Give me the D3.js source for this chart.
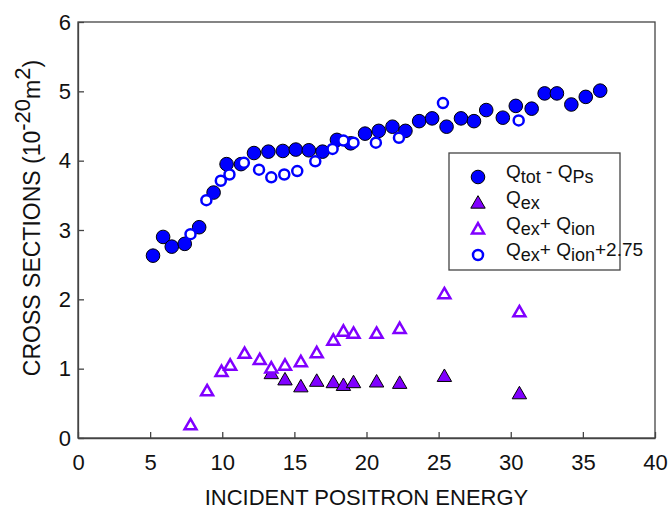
<!DOCTYPE html>
<html>
<head>
  <meta charset="utf-8">
  <script src="https://d3js.org/d3.v7.min.js"></script>
  <style>
    body { margin: 0; background: #fff; }
    text { font-family: "Liberation Sans", Arial, sans-serif; }
  </style>
</head>
<body>
<div id="chart"></div>
<script>
    var width = 669;
    var height = 512;

    // values
    var totX = [5.2, 5.9, 6.5, 7.4, 8.4, 9.4, 10.3, 11.3, 12.2, 13.2, 14.2, 15.1, 16.0, 16.95, 17.95, 18.9,
                19.9, 20.85, 21.8, 22.7, 23.65, 24.55, 25.55, 26.55, 27.45, 28.3, 29.45, 30.35, 31.45, 32.35,
                33.2, 34.2, 35.2, 36.2];
    var totY = [2.63, 2.90, 2.76, 2.80, 3.04, 3.54, 3.95, 3.95, 4.11, 4.13, 4.14, 4.16, 4.15, 4.13, 4.30, 4.25,
                4.39, 4.43, 4.49, 4.43, 4.57, 4.61, 4.49, 4.61, 4.57, 4.73, 4.62, 4.79, 4.75, 4.97,
                4.97, 4.81, 4.92, 5.01];

    var exX = [13.4, 14.35, 15.45, 16.55, 17.7, 18.4, 19.1, 20.7, 22.3, 25.4, 30.6];
    var exY = [0.93, 0.84, 0.74, 0.82, 0.80, 0.76, 0.80, 0.81, 0.79, 0.89, 0.64];

    var ionX = [7.8, 8.95, 9.95, 10.55, 11.55, 12.6, 13.4, 14.35, 15.45, 16.55, 17.7, 18.4, 19.1, 20.7, 22.3, 25.4, 30.6];
    var ionY = [0.19, 0.68, 0.96, 1.05, 1.22, 1.13, 1.01, 1.05, 1.10, 1.23, 1.41, 1.54, 1.51, 1.51, 1.58, 2.08, 1.82];

    var shiftX = [7.8, 8.9, 9.9, 10.5, 11.5, 12.55, 13.4, 14.3, 15.2, 16.45, 17.65, 18.4, 19.1, 20.65, 22.25, 25.3, 30.55];
    var shiftY = [2.94, 3.43, 3.71, 3.80, 3.97, 3.87, 3.76, 3.80, 3.85, 3.99, 4.17, 4.29, 4.26, 4.26, 4.33, 4.83, 4.58];

    var xTicks = [0, 5, 10, 15, 20, 25, 30, 35, 40];
    var yTicks = [0, 1, 2, 3, 4, 5, 6];

    var blue = "#0000ff";
    var purple = "#8000ff";
    var axisColor = "#444";

    var x = d3.scaleLinear().domain([0, 40]).range([78, 655]);
    var y = d3.scaleLinear().domain([0, 6]).range([438, 22]);

    var svg = d3.select("#chart")
                .append("svg")
                .attr("width", width)
                .attr("height", height);

    // frame
    svg.append("rect")
       .attr("x", x(0)).attr("y", y(6))
       .attr("width", x(40) - x(0)).attr("height", y(0) - y(6))
       .attr("fill", "none").attr("stroke", axisColor).attr("stroke-width", 1.3);

    var xAxis = svg.append("g")
       .attr("transform", "translate(0," + y(0) + ")")
       .call(d3.axisBottom(x).tickValues(xTicks).tickFormat(d3.format("d"))
             .tickSizeInner(-6).tickSizeOuter(0).tickPadding(16));
    var yAxis = svg.append("g")
       .attr("transform", "translate(" + x(0) + ",0)")
       .call(d3.axisLeft(y).tickValues(yTicks).tickFormat(d3.format("d"))
             .tickSizeInner(-6).tickSizeOuter(0).tickPadding(7));

    [xAxis, yAxis].forEach(function(g) {
      g.attr("font-size", 22).attr("font-family", "Liberation Sans, Arial, sans-serif");
      g.select(".domain").attr("stroke", axisColor).attr("stroke-width", 1.3);
      g.selectAll(".tick line").attr("stroke", axisColor).attr("stroke-width", 1.3);
      g.selectAll(".tick text").attr("fill", "#111");
    });

    // axis titles
    svg.append("text")
       .attr("x", (x(0) + x(40)) / 2).attr("y", 505)
       .attr("text-anchor", "middle").attr("font-size", 22).attr("fill", "#111")
       .text("INCIDENT POSITRON ENERGY");

    var yt = svg.append("text")
       .attr("transform", "translate(40,218) rotate(-90)")
       .attr("text-anchor", "middle").attr("font-size", 23).attr("fill", "#111");
    yt.append("tspan").text("CROSS SECTIONS (10");
    yt.append("tspan").attr("dy", -10).attr("font-size", 22).text("-20");
    yt.append("tspan").attr("dy", 10).text("m");
    yt.append("tspan").attr("dy", -10).attr("font-size", 22).text("2");
    yt.append("tspan").attr("dy", 10).text(")");

    var tri = d3.symbol().type(d3.symbolTriangle);

    var pts = function(xs, ys) { return xs.map(function(v, i) { return [v, ys[i]]; }); };

    // Q_tot - Q_Ps
    svg.append("g").selectAll("circle").data(pts(totX, totY)).join("circle")
       .attr("cx", function(d) { return x(d[0]); })
       .attr("cy", function(d) { return y(d[1]); })
       .attr("r", 6.8).attr("fill", blue).attr("stroke", "#000").attr("stroke-width", 1);

    // Q_ex
    svg.append("g").selectAll("path").data(pts(exX, exY)).join("path")
       .attr("d", tri.size(90))
       .attr("transform", function(d) { return "translate(" + x(d[0]) + "," + (y(d[1]) + 1) + ")"; })
       .attr("fill", purple).attr("stroke", "#000").attr("stroke-width", 1);

    // Q_ex + Q_ion
    svg.append("g").selectAll("path").data(pts(ionX, ionY)).join("path")
       .attr("d", tri.size(62))
       .attr("transform", function(d) { return "translate(" + x(d[0]) + "," + (y(d[1]) + 1) + ")"; })
       .attr("fill", "#fff").attr("stroke", purple).attr("stroke-width", 2.5);

    // Q_ex + Q_ion + 2.75
    svg.append("g").selectAll("circle").data(pts(shiftX, shiftY)).join("circle")
       .attr("cx", function(d) { return x(d[0]); })
       .attr("cy", function(d) { return y(d[1]); })
       .attr("r", 5).attr("fill", "#fff").attr("stroke", blue).attr("stroke-width", 2.5);

    // legend
    var lg = svg.append("g");
    lg.append("rect").attr("x", 449).attr("y", 153).attr("width", 171).attr("height", 117)
      .attr("fill", "#fff").attr("stroke", axisColor).attr("stroke-width", 1.3);

    var rows = [177, 203, 229, 255];
    var mx = 478, tx = 506;

    lg.append("circle").attr("cx", mx).attr("cy", rows[0]).attr("r", 6.8)
      .attr("fill", blue).attr("stroke", "#000").attr("stroke-width", 1);
    lg.append("path").attr("d", tri.size(90)).attr("transform", "translate(" + mx + "," + (rows[1] + 1) + ")")
      .attr("fill", purple).attr("stroke", "#000").attr("stroke-width", 1);
    lg.append("path").attr("d", tri.size(62)).attr("transform", "translate(" + mx + "," + (rows[2] + 1) + ")")
      .attr("fill", "#fff").attr("stroke", purple).attr("stroke-width", 2.5);
    lg.append("circle").attr("cx", mx).attr("cy", rows[3]).attr("r", 5)
      .attr("fill", "#fff").attr("stroke", blue).attr("stroke-width", 2.5);

    var labels = [
      [["Q", 0], ["tot", 1], [" - Q", 0], ["Ps", 1]],
      [["Q", 0], ["ex", 1]],
      [["Q", 0], ["ex", 1], ["+ Q", 0], ["ion", 1]],
      [["Q", 0], ["ex", 1], ["+ Q", 0], ["ion", 1], ["+2.75", 0]]
    ];
    labels.forEach(function(parts, i) {
      var t = lg.append("text").attr("x", tx).attr("y", rows[i] + 1).attr("font-size", 19).attr("fill", "#111");
      var sub = 0;
      parts.forEach(function(p) {
        var dy = (p[1] ? 5 : 0) - sub;
        sub = p[1] ? 5 : 0;
        t.append("tspan").attr("dy", dy).attr("font-size", p[1] ? 18 : 19).text(p[0]);
      });
    });
</script>
</body>
</html>
